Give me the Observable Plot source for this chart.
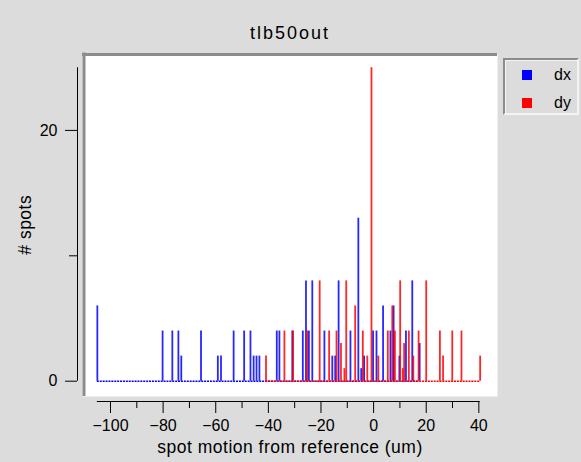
<!DOCTYPE html>
<html>
<head>
<meta charset="utf-8">
<script src="https://cdn.jsdelivr.net/npm/d3@7"></script>
<script src="https://cdn.jsdelivr.net/npm/@observablehq/plot@0.6"></script>
<style>
  html, body { margin: 0; padding: 0; background: #dcdcdc; }
  #wrap { position: relative; width: 581px; height: 462px; font-family: "Liberation Sans", Arial, Helvetica, sans-serif; }
  #legend { position: absolute; left: 503px; top: 58px; width: 76px; height: 57px; box-sizing: border-box;
            background: #dcdcdc; border-top: 2px solid #8c8c8c; border-left: 2px solid #8c8c8c;
            border-right: 2px solid #f4f4f4; border-bottom: 2px solid #f4f4f4;
            box-shadow: inset 1px 1px 0 #f4f4f4; }
  .sw { position: absolute; width: 10px; height: 10px; }
  .lt { position: absolute; font-size: 16px; line-height: 16px; color: #000; }
</style>
</head>
<body>
<div id="wrap"></div>
<script>
// ---- data ----
const dxPos   = [-105, -80.2, -76.5, -74.2, -73.1, -65.6, -59.2, -58, -53.2, -49.2,
                 -46.8, -45.6, -44.5, -43.4, -36.8, -35.8, -30.9, -26.9, -25.7, -24.6,
                 -23.3, -18.7, -15.7, -14.6, -13.3, -8.8, -5.8, -4.7, -3.6, -0.2,
                 1.1, 3.6, 6.4, 7.6, 9.8, 12.3, 14.7, 17.5];
const dxCount = [6, 4, 4, 4, 2, 4, 2, 2, 4, 4,
                 4, 2, 2, 2, 4, 4, 4, 4, 8, 4,
                 8, 4, 2, 2, 8, 4, 13, 1, 2, 4,
                 4, 6, 4, 6, 2, 4, 8, 3];
const dyPos   = [-40.9, -33.9, -30.6, -25.2, -20.5, -16.9, -14.1, -12.4, -11.1, -10.4,
                 -7.0, -4.1, -2.4, -0.8, 1.8, 5.4, 7.1, 8.1, 10.1, 11.1,
                 11.6, 13.4, 15.1, 17.1, 20.0, 25.2, 26.4, 29.9, 33.4, 40.5];
const dyCount = [2, 4, 4, 4, 8, 4, 4, 3, 1, 8,
                 6, 4, 2, 25, 2, 4, 6, 4, 8, 1,
                 3, 4, 2, 4, 8, 4, 2, 4, 4, 2];
const seriesNames  = ["dx", "dy"];
const seriesColors = ["#0000ff", "#ff0000"];
const xMajorTicks = [-100, -80, -60, -40, -20, 0, 20, 40];
const xMinorTicks = [-90, -70, -50, -30, -10, 10, 30];
const yMajorTicks = [0, 20];
const yMinorTicks = [10];
const chartTitle = "tlb50out";
const xTitle = "spot motion from reference (um)";
const yTitle = "# spots";

// ---- layout ----
const W = 581, H = 462, mL = 82, mR = 84, mT = 52.5, mB = 66;
const x0px = 373.1, xk = 2.631, y0px = 380.7, yk = 12.54;
const xDomain = [(mL - x0px) / xk, (W - mR - x0px) / xk];
const yDomain = [(y0px - (H - mB)) / yk, (y0px - mT) / yk];

const dxData = dxPos.map((x, i) => ({x, n: dxCount[i]}));
const dyData = dyPos.map((x, i) => ({x, n: dyCount[i]}));
const allPos = dxPos.concat(dyPos);
const allCount = dxCount.concat(dyCount);

const series = [
  {data: dxData, pos: dxPos, color: seriesColors[0]},
  {data: dyData, pos: dyPos, color: seriesColors[1]}
];

const seriesMarks = series.flatMap(s => [
  Plot.ruleY([0], {x1: d3.min(s.pos), x2: d3.max(s.pos), stroke: s.color, strokeWidth: 1.5, strokeDasharray: "2,0.9"}),
  Plot.ruleX(s.data, {x: "x", y1: 0, y2: "n", stroke: s.color, strokeWidth: 1.8, strokeOpacity: 0.85})
]);

const fmt = d3.format("d");

const chart = Plot.plot({
  width: W, height: H,
  marginLeft: mL, marginRight: mR, marginTop: mT, marginBottom: mB,
  style: {background: "#dcdcdc", fontFamily: "'Liberation Sans', Arial, Helvetica, sans-serif", fontSize: "16px", color: "#000"},
  x: {domain: xDomain},
  y: {domain: yDomain},
  marks: [
    Plot.frame({fill: "white", stroke: null}),
    Plot.ruleY([yDomain[1]], {stroke: "#8c8c8c", strokeWidth: 3, dy: 1.5}),
    Plot.ruleX([xDomain[0]], {stroke: "#8c8c8c", strokeWidth: 3, dx: 1.5}),
    ...seriesMarks,
    // range-frame axis lines
    Plot.ruleY([yDomain[0]], {x1: d3.min(allPos), x2: d3.max(allPos), dy: 5, stroke: "#000"}),
    Plot.ruleX([xDomain[0]], {y1: 0, y2: d3.max(allCount), dx: -5, stroke: "#000"}),
    Plot.axisX({ticks: xMajorTicks, anchor: "bottom", tickSize: 12, tickPadding: 6, dy: 5, tickFormat: fmt, fontSize: 16, label: null}),
    Plot.axisX({ticks: xMinorTicks, anchor: "bottom", tickSize: 7, dy: 5, tickFormat: () => "", label: null}),
    Plot.axisY({ticks: yMajorTicks, anchor: "left", tickSize: 12, tickPadding: 8, dx: -5, tickFormat: fmt, fontSize: 16, label: null}),
    Plot.axisY({ticks: yMinorTicks, anchor: "left", tickSize: 8, dx: -5, tickFormat: () => "", label: null}),
    Plot.text([chartTitle], {frameAnchor: "top", lineAnchor: "middle", textAnchor: "middle", dy: -20, fontSize: 18}),
    Plot.text([xTitle], {frameAnchor: "bottom", lineAnchor: "middle", textAnchor: "middle", dy: 51, fontSize: 17.5}),
    Plot.text([yTitle], {frameAnchor: "left", lineAnchor: "middle", textAnchor: "middle", dx: -57, rotate: -90, fontSize: 17.5})
  ]
});

const wrap = document.getElementById("wrap");
wrap.appendChild(chart);

d3.select(chart).selectAll("text").each(function() {
  const t = this.textContent;
  if (t === chartTitle) d3.select(this).attr("letter-spacing", "2px");
  else if (t === xTitle || t === yTitle) d3.select(this).attr("letter-spacing", "0.5px");
});

// legend
const legend = document.createElement("div");
legend.id = "legend";
seriesNames.forEach((name, i) => {
  const sw = document.createElement("div");
  sw.className = "sw";
  sw.style.background = seriesColors[i];
  sw.style.left = "17px";
  sw.style.top = (10 + i * 28) + "px";
  legend.appendChild(sw);
  const lt = document.createElement("div");
  lt.className = "lt";
  lt.textContent = name;
  lt.style.left = "49px";
  lt.style.top = (7 + i * 28) + "px";
  legend.appendChild(lt);
});
wrap.appendChild(legend);
</script>
</body>
</html>
